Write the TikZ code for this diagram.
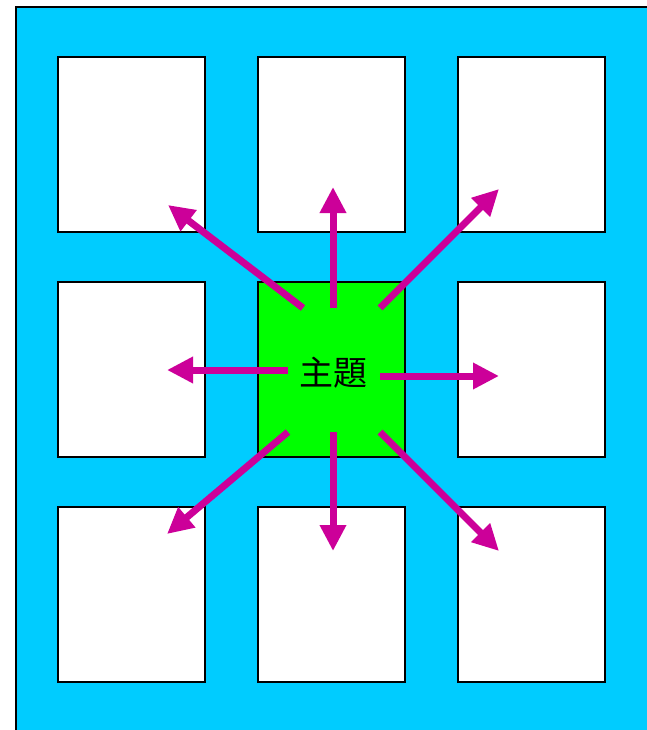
\documentclass[tikz,border=0pt]{standalone}
\usepackage{fontspec}
\newfontfamily\cjk{Noto Sans CJK TC}
\usetikzlibrary{arrows.meta}
\definecolor{bgblue}{HTML}{00CCFF}
\definecolor{topicgreen}{HTML}{00FF00}
\definecolor{raycolor}{HTML}{CC0099}
\begin{document}
\begin{tikzpicture}[x=1pt,y=-1pt,
  cell/.style={draw=black,line width=1.2pt,fill=white,minimum width=147pt,minimum height=175pt,inner sep=0pt},
  ray/.style={draw=raycolor,line width=7pt,-{Triangle[length=26pt,width=25pt]}}]
\useasboundingbox (0,0) rectangle (646,730);
% background
\fill[bgblue] (16,7) rectangle (652,736);
\draw[line width=2pt] (16,736) -- (16,7) -- (652,7);
% the nine cells
\node[cell] (nw) at (131.5,144.5) {};
\node[cell] (n) at (331.5,144.5) {};
\node[cell] (ne) at (531.5,144.5) {};
\node[cell] (w) at (131.5,369.5) {};
\node[cell,fill=topicgreen,font=\cjk\fontsize{34}{34}\selectfont,text depth=0pt] (topic) at (331.5,369.5) {\raisebox{-3pt}{\hspace{3pt}主題}};
\node[cell] (e) at (531.5,369.5) {};
\node[cell] (sw) at (131.5,594.5) {};
\node[cell] (s) at (331.5,594.5) {};
\node[cell] (se) at (531.5,594.5) {};
% arrow ends
\coordinate (a1) at (303,308); \coordinate (b1) at (168,205);
\coordinate (a2) at (333,308); \coordinate (b2) at (333,187);
\coordinate (a3) at (380,308); \coordinate (b3) at (499,189);
\coordinate (a4) at (288,370); \coordinate (b4) at (167,370);
\coordinate (a5) at (380,376); \coordinate (b5) at (499,376);
\coordinate (a6) at (288,432); \coordinate (b6) at (167,534);
\coordinate (a7) at (333,432); \coordinate (b7) at (333,551);
\coordinate (a8) at (380,432); \coordinate (b8) at (499,551);
\foreach \i in {1,...,8}
  \draw[ray] (a\i) -- (b\i);
\end{tikzpicture}
\end{document}
